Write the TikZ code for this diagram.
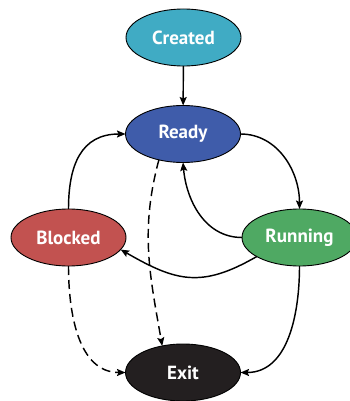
\documentclass[tikz,border=0pt]{standalone}
\usepackage{fontspec}
\setmainfont{PT Sans}
\usetikzlibrary{shapes.geometric,arrows.meta}
\definecolor{cCreated}{HTML}{40ABC4}
\definecolor{cReady}{HTML}{3F5CAA}
\definecolor{cBlocked}{HTML}{C25250}
\definecolor{cRunning}{HTML}{4FA963}
\definecolor{cExit}{HTML}{231F20}
\tikzset{
  state/.style={ellipse, draw=black, line width=0.9pt, minimum width=115pt, minimum height=57pt,
    inner sep=0pt, outer sep=0pt, text=white, font=\fontsize{19}{21}\selectfont\bfseries},
  trans/.style={line width=1.45pt, -{Stealth[length=8.5pt,width=7pt,inset=1.5pt]}},
  dtrans/.style={trans, dash pattern=on 9pt off 5pt}
}
\begin{document}
\begin{tikzpicture}[x=1pt,y=-1pt]
\useasboundingbox (0,0) rectangle (349,401);
\node[state, fill=cCreated] (created) at (183.5,37.5) {Created};
\node[state, fill=cReady] (ready) at (183,134) {Ready};
\node[state, fill=cBlocked] (blocked) at (68.5,237.5) {Blocked};
\node[state, fill=cRunning] (running) at (299.5,237.5) {Running};
\node[state, fill=cExit] (exit) at (183,372.5) {Exit};
\draw[trans] (created) -- (ready);
\draw[trans] (ready.east) to[out=0,in=90] (running.north);
\draw[trans] (running.west) to[out=180,in=-85] (ready.south);
\draw[trans] (running.204) to[out=-150,in=-30,looseness=1.2] (blocked.-13);
\draw[trans] (blocked.north) to[out=90,in=180,looseness=1.2] (ready.west);
\draw[trans] (running.south) to[out=-90,in=0] (exit.east);
\draw[dtrans] (blocked.south) to[out=-90,in=180] (exit.west);
\draw[dtrans] (ready.227) to[out=-105,in=100] (exit.128);
\end{tikzpicture}
\end{document}
